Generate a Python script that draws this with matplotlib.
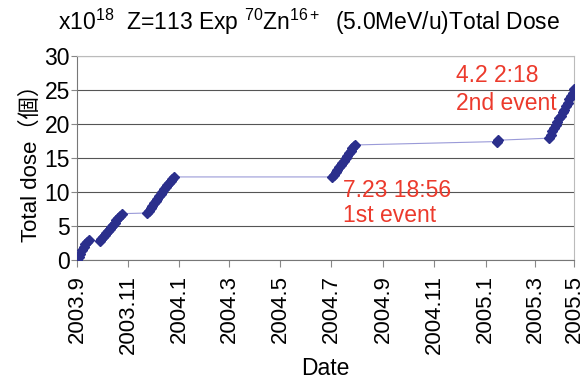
import datetime as dt
import matplotlib
matplotlib.use("Agg")
import matplotlib.pyplot as plt

plt.rcParams['font.family'] = ['Liberation Sans', 'Noto Sans CJK JP']
plt.rcParams['mathtext.fontset'] = 'custom'
plt.rcParams['mathtext.rm'] = 'Liberation Sans'
plt.rcParams['mathtext.it'] = 'Liberation Sans'
plt.rcParams['mathtext.bf'] = 'Liberation Sans'

# dose readings (x10^18)
dates = [
    # run 1
    "2003-09-01", "2003-09-03", "2003-09-05", "2003-09-07", "2003-09-09",
    "2003-09-11", "2003-09-13", "2003-09-15",
    # run 2
    "2003-09-28", "2003-09-30", "2003-10-02", "2003-10-04", "2003-10-06",
    "2003-10-08", "2003-10-10", "2003-10-12", "2003-10-14", "2003-10-16",
    "2003-10-18", "2003-10-20", "2003-10-22", "2003-10-25",
    # run 3
    "2003-11-24", "2003-11-26", "2003-11-28", "2003-11-30", "2003-12-02",
    "2003-12-04", "2003-12-06", "2003-12-08", "2003-12-10", "2003-12-12",
    "2003-12-14", "2003-12-16", "2003-12-18", "2003-12-20", "2003-12-22",
    "2003-12-24", "2003-12-26",
    # run 4
    "2004-07-02", "2004-07-04", "2004-07-06", "2004-07-08", "2004-07-10",
    "2004-07-12", "2004-07-14", "2004-07-16", "2004-07-18", "2004-07-20",
    "2004-07-22", "2004-07-24", "2004-07-26", "2004-07-28", "2004-07-29",
    # single point
    "2005-01-15", "2005-01-16",
    # run 5
    "2005-03-18", "2005-03-20", "2005-03-22", "2005-03-24", "2005-03-26",
    "2005-03-28", "2005-03-30", "2005-04-01", "2005-04-03", "2005-04-05",
    "2005-04-07", "2005-04-09", "2005-04-11", "2005-04-13", "2005-04-15",
    "2005-04-17",
]
dose = [
    0.0, 0.5, 0.9, 1.4, 1.9, 2.3, 2.6, 2.9,
    2.8, 3.1, 3.4, 3.7, 4.0, 4.3, 4.6, 4.9, 5.2, 5.5, 5.8, 6.1, 6.4, 6.8,
    6.9, 7.2, 7.6, 7.9, 8.3, 8.7, 9.0, 9.4, 9.7, 10.0, 10.4, 10.7, 11.0,
    11.3, 11.6, 11.9, 12.2,
    12.2, 12.5, 12.9, 13.2, 13.6, 13.9, 14.3, 14.6, 15.0, 15.3, 15.7,
    16.0, 16.4, 16.7, 16.9,
    17.4, 17.6,
    17.9, 18.4, 18.9, 19.4, 19.9, 20.3, 20.8, 21.2, 21.7, 22.1, 22.6,
    23.1, 23.6, 24.1, 24.6, 25.1,
]

tick_dates = ["2003-09-01", "2003-11-01", "2004-01-01", "2004-03-01",
              "2004-05-01", "2004-07-01", "2004-09-01", "2004-11-01",
              "2005-01-01", "2005-03-01", "2005-04-17"]
tick_labels = ["2003.9", "2003.11", "2004.1", "2004.3", "2004.5", "2004.7",
               "2004.9", "2004.11", "2005.1", "2005.3", "2005.5"]

x = [dt.datetime.strptime(d, "%Y-%m-%d") for d in dates]
xt = [dt.datetime.strptime(d, "%Y-%m-%d") for d in tick_dates]

fig = plt.figure(figsize=(5.85, 3.8), dpi=100)
ax = fig.add_axes([0.1316, 0.316, 0.850, 0.537])

ax.plot(x, dose, color='#9a9ad8', lw=0.8, zorder=2)
ax.plot(x, dose, ls='none', marker='D', ms=5.5, color='#2b2f8c', zorder=3)

ax.set_xlim(xt[0], xt[-1])
ax.set_ylim(0, 30)
ax.set_yticks(range(0, 31, 5))
ax.set_xticks(xt)
ax.set_xticklabels(tick_labels, rotation=90)
ax.tick_params(axis='y', labelsize=16.5, color='#888888', length=4, pad=1)
ax.tick_params(axis='x', labelsize=16, color='#888888', length=5, pad=6)
ax.grid(axis='y', color='#555555', lw=0.8)
for s in ax.spines.values():
    s.set_color('#bbbbbb')
    s.set_linewidth(0.8)
ax.spines['bottom'].set_color('#777777')
ax.spines['left'].set_color('#777777')

ax.set_xlabel("Date", fontsize=16.5, labelpad=2)
ax.set_ylabel("Total dose（個）", fontsize=16, labelpad=2)

fig.text(58 / 585, 1 - 30 / 380,
         r"x10$^{18}$  Z=113 Exp $^{70}$Zn$^{16+}$  (5.0MeV/u)Total Dose",
         fontsize=16.5, ha='left', va='baseline')

red = '#ec3a2c'
ax.text(dt.datetime(2004, 7, 15), 10.2, "7.23 18:56", color=red, fontsize=16.5,
        va='center')
ax.text(dt.datetime(2004, 7, 15), 6.6, "1st event", color=red, fontsize=16.5,
        va='center')
ax.text(dt.datetime(2004, 11, 27), 27.1, "4.2 2:18", color=red, fontsize=16.5,
        va='center')
ax.text(dt.datetime(2004, 11, 27), 23.0, "2nd event", color=red, fontsize=16.5,
        va='center')

fig.savefig("out.png", dpi=100)
